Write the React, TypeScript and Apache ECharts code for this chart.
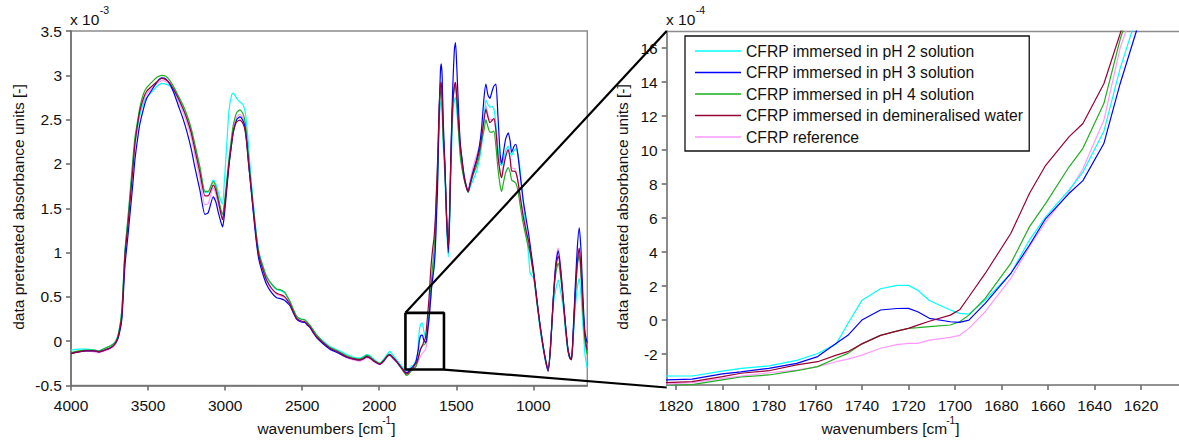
import React, { useEffect, useRef } from "react";
import * as echarts from "echarts";

const FONT = "'Liberation Sans', Arial, Helvetica, sans-serif";

const seriesNames = [
  "CFRP immersed in pH 2 solution",
  "CFRP immersed in pH 3 solution",
  "CFRP immersed in pH 4 solution",
  "CFRP immersed in demineralised water",
  "CFRP reference",
];
const seriesColors = ["#00ffff", "#0000ff", "#1faf1f", "#990033", "#ff99ff"];
const seriesZ = [3, 4, 3, 5, 2];

// wavenumbers [cm-1]
const wavenumbers = [
  4000, 3950, 3900, 3850, 3820, 3780, 3740, 3710, 3690, 3670,
  3650, 3630, 3600, 3585, 3565, 3552, 3530, 3509, 3466, 3440,
  3412, 3385, 3358, 3330, 3304, 3275, 3249, 3220, 3196, 3163,
  3131, 3110, 3077, 3060, 3044, 3025, 3016, 3005, 2990, 2975,
  2958, 2947, 2925, 2904, 2885, 2871, 2860, 2850, 2835, 2817,
  2800, 2785, 2774, 2750, 2731, 2700, 2666, 2640, 2612, 2595,
  2579, 2560, 2536, 2510, 2482, 2465, 2450, 2430, 2406, 2370,
  2320, 2270, 2211, 2170, 2125, 2100, 2082, 2060, 2030, 1996,
  1970, 1945, 1931, 1910, 1887, 1860, 1840, 1830,
  1824, 1813, 1800, 1792, 1780, 1768, 1759, 1751, 1746, 1740,
  1732, 1725, 1720, 1716, 1711, 1702, 1698, 1694, 1687, 1676,
  1668, 1661, 1651, 1645, 1636, 1629, 1622,
  1611, 1603, 1598, 1592, 1585, 1574, 1563, 1552, 1545, 1537,
  1528, 1520, 1512, 1505, 1497, 1485, 1475, 1466, 1450, 1435,
  1423, 1410, 1390, 1368, 1350, 1336, 1320, 1308, 1295, 1282,
  1268, 1256, 1243, 1230, 1215, 1206, 1195, 1180, 1163, 1150,
  1141, 1125, 1113, 1100, 1087, 1065, 1044, 1030, 1022, 1012,
  1000, 990, 975, 958, 940, 920, 904, 890, 871, 855,
  839, 825, 806, 790, 775, 760, 752, 742, 730, 715,
  702, 690, 677, 665, 651,
];

// absorbance, units of 1e-3
const pH2 = [
  -0.10, -0.09, -0.09, -0.10, -0.11, -0.08, -0.05, 0.00, 0.10, 0.35,
  1.00, 1.38, 1.97, 2.24, 2.45, 2.56, 2.68, 2.75, 2.83, 2.88,
  2.91, 2.90, 2.88, 2.82, 2.74, 2.63, 2.52, 2.37, 2.20, 1.95,
  1.68, 1.68, 1.82, 1.77, 1.68, 1.57, 1.55, 1.80, 2.20, 2.60,
  2.78, 2.80, 2.74, 2.70, 2.67, 2.60, 2.45, 2.25, 1.90, 1.55,
  1.25, 1.05, 0.96, 0.82, 0.73, 0.64, 0.58, 0.57, 0.54, 0.49,
  0.44, 0.36, 0.28, 0.25, 0.24, 0.21, 0.18, 0.13, 0.07, 0.01,
  -0.06, -0.10, -0.15, -0.18, -0.19, -0.17, -0.15, -0.165, -0.21, -0.245,
  -0.20, -0.14, -0.115, -0.16, -0.21, -0.27, -0.31, -0.325,
  -0.329, -0.329, -0.300, -0.284, -0.270, -0.237, -0.197, -0.140, -0.020, 0.116,
  0.184, 0.204, 0.204, 0.175, 0.115, 0.059, 0.039, 0.035, 0.117, 0.274,
  0.470, 0.607, 0.764, 0.870, 1.110, 1.480, 1.780,
  2.45, 2.68, 2.71, 2.55, 2.20, 1.85, 1.30, 0.95, 1.20, 1.75,
  2.30, 2.60, 2.72, 2.75, 2.60, 2.35, 2.15, 2.00, 1.85, 1.74,
  1.68, 1.74, 1.82, 1.92, 2.05, 2.20, 2.50, 2.72, 2.67, 2.64,
  2.65, 2.62, 2.45, 2.20, 2.00, 1.98, 2.05, 2.15, 2.20, 2.12,
  2.10, 2.15, 2.18, 2.10, 1.95, 1.55, 1.20, 0.95, 0.78, 0.74,
  0.72, 0.62, 0.40, 0.15, -0.05, -0.24, -0.33, -0.12, 0.40, 0.58,
  0.69, 0.58, 0.38, 0.08, -0.13, -0.20, -0.20, 0.00, 0.33, 0.60,
  0.71, 0.50, 0.15, -0.15, -0.30,
];

const pH3 = [
  -0.14, -0.12, -0.11, -0.11, -0.12, -0.10, -0.07, -0.02, 0.06, 0.25,
  0.85, 1.20, 1.75, 2.05, 2.32, 2.46, 2.62, 2.74, 2.86, 2.93,
  2.97, 2.96, 2.90, 2.79, 2.66, 2.52, 2.37, 2.17, 1.96, 1.70,
  1.43, 1.45, 1.63, 1.57, 1.45, 1.33, 1.29, 1.42, 1.70, 1.98,
  2.22, 2.36, 2.50, 2.53, 2.49, 2.41, 2.25, 2.05, 1.78, 1.45,
  1.16, 0.96, 0.87, 0.73, 0.64, 0.55, 0.49, 0.48, 0.46, 0.43,
  0.40, 0.33, 0.25, 0.22, 0.21, 0.18, 0.155, 0.10, 0.04, -0.02,
  -0.09, -0.13, -0.18, -0.20, -0.21, -0.195, -0.175, -0.19, -0.23, -0.26,
  -0.22, -0.165, -0.155, -0.19, -0.23, -0.29, -0.33, -0.35,
  -0.352, -0.347, -0.317, -0.305, -0.284, -0.255, -0.215, -0.137, -0.090, 0.000,
  0.059, 0.068, 0.069, 0.049, 0.010, -0.010, -0.014, 0.000, 0.098, 0.274,
  0.440, 0.597, 0.744, 0.820, 1.038, 1.390, 1.700,
  2.60, 3.05, 3.13, 3.00, 2.50, 2.00, 1.40, 1.00, 1.30, 1.95,
  2.60, 3.00, 3.30, 3.37, 3.10, 2.60, 2.25, 2.10, 1.88, 1.75,
  1.69, 1.78, 1.92, 2.05, 2.20, 2.40, 2.75, 2.90, 2.78, 2.74,
  2.82, 2.88, 2.90, 2.55, 2.10, 2.00, 2.12, 2.28, 2.35, 2.25,
  2.13, 2.20, 2.22, 2.10, 1.90, 1.58, 1.35, 1.20, 1.10, 0.97,
  0.82, 0.67, 0.44, 0.20, -0.02, -0.23, -0.34, -0.10, 0.47, 0.86,
  1.02, 0.85, 0.47, 0.15, -0.10, -0.20, -0.20, 0.10, 0.55, 1.05,
  1.28, 1.00, 0.45, 0.10, -0.02,
];

const pH4 = [
  -0.13, -0.11, -0.10, -0.10, -0.11, -0.08, -0.05, 0.00, 0.10, 0.35,
  1.02, 1.40, 2.02, 2.30, 2.52, 2.65, 2.79, 2.86, 2.94, 2.98,
  3.00, 2.99, 2.94, 2.86, 2.77, 2.67, 2.56, 2.40, 2.22, 1.96,
  1.69, 1.69, 1.80, 1.74, 1.62, 1.47, 1.43, 1.56, 1.80, 2.06,
  2.30, 2.44, 2.58, 2.61, 2.57, 2.48, 2.32, 2.12, 1.84, 1.52,
  1.23, 1.04, 0.95, 0.82, 0.73, 0.65, 0.59, 0.58, 0.55, 0.50,
  0.45, 0.37, 0.28, 0.25, 0.24, 0.21, 0.18, 0.13, 0.07, 0.00,
  -0.07, -0.11, -0.165, -0.19, -0.20, -0.18, -0.16, -0.175, -0.22, -0.25,
  -0.21, -0.155, -0.145, -0.18, -0.23, -0.30, -0.35, -0.375,
  -0.386, -0.380, -0.352, -0.335, -0.323, -0.298, -0.274, -0.225, -0.196, -0.140,
  -0.090, -0.065, -0.049, -0.045, -0.039, -0.029, -0.010, 0.029, 0.127, 0.333,
  0.548, 0.686, 0.900, 1.010, 1.273, 1.650, 1.950,
  2.55, 2.80, 2.84, 2.70, 2.30, 1.95, 1.40, 1.05, 1.30, 1.85,
  2.45, 2.75, 2.86, 2.88, 2.70, 2.35, 2.10, 1.98, 1.83, 1.73,
  1.68, 1.76, 1.88, 1.98, 2.10, 2.25, 2.38, 2.50, 2.42, 2.36,
  2.36, 2.37, 2.20, 1.95, 1.75, 1.69, 1.78, 1.90, 1.96, 1.90,
  1.82, 1.80, 1.78, 1.70, 1.55, 1.32, 1.15, 1.05, 1.00, 0.89,
  0.76, 0.63, 0.41, 0.18, -0.03, -0.21, -0.30, -0.10, 0.45, 0.76,
  0.88, 0.75, 0.44, 0.13, -0.10, -0.19, -0.18, 0.05, 0.45, 0.85,
  0.97, 0.72, 0.30, 0.00, -0.15,
];

const water = [
  -0.14, -0.12, -0.11, -0.11, -0.12, -0.10, -0.07, -0.02, 0.08, 0.30,
  0.97, 1.32, 1.92, 2.23, 2.48, 2.61, 2.74, 2.82, 2.89, 2.93,
  2.965, 2.95, 2.91, 2.83, 2.74, 2.63, 2.515, 2.35, 2.16, 1.90,
  1.64, 1.64, 1.76, 1.70, 1.58, 1.42, 1.37, 1.50, 1.74, 2.00,
  2.23, 2.36, 2.476, 2.495, 2.46, 2.38, 2.23, 2.04, 1.78, 1.48,
  1.20, 1.00, 0.915, 0.78, 0.69, 0.60, 0.54, 0.525, 0.50, 0.46,
  0.42, 0.34, 0.257, 0.23, 0.219, 0.19, 0.163, 0.11, 0.05, -0.01,
  -0.08, -0.12, -0.176, -0.20, -0.213, -0.195, -0.176, -0.19, -0.23, -0.258,
  -0.22, -0.165, -0.157, -0.19, -0.23, -0.29, -0.34, -0.36,
  -0.368, -0.362, -0.333, -0.313, -0.298, -0.264, -0.245, -0.206, -0.186, -0.140,
  -0.090, -0.065, -0.049, -0.030, -0.007, 0.029, 0.060, 0.137, 0.274, 0.509,
  0.744, 0.910, 1.077, 1.156, 1.390, 1.684, 2.000,
  2.65, 2.88, 2.92, 2.75, 2.35, 1.97, 1.40, 1.07, 1.35, 1.95,
  2.50, 2.75, 2.88, 2.92, 2.75, 2.45, 2.20, 2.07, 1.85, 1.74,
  1.69, 1.78, 1.90, 2.03, 2.15, 2.30, 2.50, 2.62, 2.53, 2.465,
  2.49, 2.515, 2.38, 2.10, 1.90, 1.845, 1.95, 2.08, 2.16, 2.05,
  1.92, 1.92, 1.90, 1.80, 1.65, 1.40, 1.22, 1.12, 1.03, 0.92,
  0.78, 0.65, 0.43, 0.20, -0.02, -0.22, -0.326, -0.10, 0.464, 0.82,
  0.96, 0.82, 0.464, 0.15, -0.10, -0.20, -0.21, 0.05, 0.464, 0.88,
  1.05, 0.78, 0.35, 0.05, -0.10,
];

const reference = [
  -0.14, -0.12, -0.11, -0.12, -0.13, -0.11, -0.08, -0.03, 0.06, 0.28,
  0.95, 1.30, 1.90, 2.20, 2.45, 2.58, 2.71, 2.79, 2.87, 2.91,
  2.94, 2.93, 2.89, 2.80, 2.71, 2.59, 2.47, 2.30, 2.10, 1.83,
  1.54, 1.55, 1.73, 1.66, 1.54, 1.42, 1.40, 1.52, 1.77, 2.03,
  2.27, 2.41, 2.53, 2.56, 2.52, 2.43, 2.27, 2.07, 1.80, 1.48,
  1.19, 0.99, 0.90, 0.77, 0.68, 0.59, 0.53, 0.51, 0.49, 0.45,
  0.41, 0.33, 0.25, 0.22, 0.21, 0.18, 0.155, 0.10, 0.04, -0.02,
  -0.09, -0.13, -0.19, -0.21, -0.225, -0.205, -0.185, -0.20, -0.24, -0.265,
  -0.23, -0.17, -0.16, -0.20, -0.24, -0.30, -0.345, -0.365,
  -0.376, -0.368, -0.343, -0.330, -0.310, -0.294, -0.274, -0.245, -0.230, -0.206,
  -0.166, -0.145, -0.137, -0.137, -0.118, -0.102, -0.090, -0.049, 0.049, 0.245,
  0.431, 0.578, 0.754, 0.890, 1.175, 1.600, 1.880,
  2.65, 2.90, 2.93, 2.78, 2.35, 1.97, 1.40, 1.07, 1.35, 1.95,
  2.50, 2.78, 2.90, 2.92, 2.78, 2.48, 2.25, 2.10, 1.88, 1.76,
  1.71, 1.82, 1.97, 2.10, 2.20, 2.35, 2.52, 2.66, 2.56, 2.50,
  2.50, 2.50, 2.35, 2.10, 1.90, 1.86, 1.97, 2.10, 2.17, 2.05,
  1.95, 1.95, 1.92, 1.82, 1.67, 1.42, 1.24, 1.13, 1.05, 0.93,
  0.79, 0.66, 0.44, 0.21, -0.01, -0.21, -0.31, -0.08, 0.48, 0.88,
  1.05, 0.88, 0.50, 0.16, -0.09, -0.19, -0.20, 0.06, 0.47, 0.90,
  1.05, 0.78, 0.35, 0.05, -0.10,
];

const seriesValues = [pH2, pH3, pH4, water, reference];

// axis ranges
const fullRangeX = [650, 4000];
const fullRangeY = [-0.5, 3.5];
const zoomRangeX = [1603.7, 1823.9];
const zoomRangeY = [-0.382, 1.7]; // in 1e-3 units (labels shown in 1e-4)

// zoom box marked in the full spectrum
const zoomBoxX = [1830, 1580];
const zoomBoxY = [-0.32, 0.32];

const yAxisTitle = "data pretreated absorbance units [-]";

const measure = (() => {
  let ctx: CanvasRenderingContext2D | null = null;
  return (text: string, size: number) => {
    if (!ctx) ctx = document.createElement("canvas").getContext("2d");
    ctx!.font = `${size}px ${FONT}`;
    return ctx!.measureText(text).width;
  };
})();

export default function App() {
  const ref = useRef<HTMLDivElement>(null);

  useEffect(() => {
    const chart = echarts.init(ref.current!, null, { renderer: "svg" });

    const axisLineStyle = { color: "#6e6e6e", width: 1.6 };
    const labelStyle = { color: "#111", fontSize: 15.5, fontFamily: FONT };
    const plain = (v: number) => String(v);

    const makeSeries = (i: number, grid: number) => ({
      type: "line",
      name: seriesNames[i],
      xAxisIndex: grid,
      yAxisIndex: grid,
      data: wavenumbers.map((w, k) => [w, seriesValues[i][k]]),
      symbol: "none",
      showSymbol: false,
      smooth: grid === 0 ? 0.2 : false,
      clip: true,
      z: seriesZ[i],
      lineStyle: { color: seriesColors[i], width: 1.2 },
      itemStyle: { color: seriesColors[i] },
      emphasis: { disabled: true },
    });

    const series: any[] = [];
    for (let i = 0; i < 5; i++) series.push(makeSeries(i, 0));
    for (let i = 0; i < 5; i++) series.push(makeSeries(i, 1));
    series.push({
      type: "line",
      name: "zoombox",
      xAxisIndex: 0,
      yAxisIndex: 0,
      data: [
        [zoomBoxX[0], zoomBoxY[1]],
        [zoomBoxX[1], zoomBoxY[1]],
        [zoomBoxX[1], zoomBoxY[0]],
        [zoomBoxX[0], zoomBoxY[0]],
        [zoomBoxX[0], zoomBoxY[1]],
      ],
      symbol: "none",
      clip: false,
      z: 10,
      lineStyle: { color: "#000", width: 2.6 },
      itemStyle: { color: "#000" },
      emphasis: { disabled: true },
    });

    const option: any = {
      animation: false,
      textStyle: { fontFamily: FONT },
      grid: [
        {
          left: 71,
          top: 31,
          width: 516.3,
          height: 354.5,
          show: true,
          borderColor: "#8c8c8c",
          borderWidth: 1.4,
          backgroundColor: "transparent",
        },
        { left: 666.7, top: 31, width: 512.3, height: 354, show: false },
      ],
      xAxis: [
        {
          type: "value",
          gridIndex: 0,
          inverse: true,
          min: fullRangeX[0],
          max: fullRangeX[1],
          minInterval: 500,
          maxInterval: 500,
          axisLine: { show: true, onZero: false, lineStyle: axisLineStyle },
          axisTick: { show: true, inside: false, length: 5, lineStyle: axisLineStyle },
          axisLabel: { ...labelStyle, margin: 12, showMinLabel: false, showMaxLabel: true, formatter: plain },
          splitLine: { show: false },
        },
        {
          type: "value",
          gridIndex: 1,
          inverse: true,
          min: zoomRangeX[0],
          max: zoomRangeX[1],
          minInterval: 20,
          maxInterval: 20,
          axisLine: { show: true, onZero: false, lineStyle: axisLineStyle },
          axisTick: { show: true, inside: false, length: 5, lineStyle: axisLineStyle },
          axisLabel: { ...labelStyle, margin: 12, showMinLabel: false, showMaxLabel: false, formatter: plain },
          splitLine: { show: false },
        },
        {
          type: "value",
          gridIndex: 1,
          position: "top",
          inverse: true,
          min: zoomRangeX[0],
          max: zoomRangeX[1],
          axisLine: { show: true, onZero: false, lineStyle: { color: "#8c8c8c", width: 1.4 } },
          axisTick: { show: false },
          axisLabel: { show: false },
          splitLine: { show: false },
        },
      ],
      yAxis: [
        {
          type: "value",
          gridIndex: 0,
          min: fullRangeY[0],
          max: fullRangeY[1],
          interval: 0.5,
          axisLine: { show: true, onZero: false, lineStyle: axisLineStyle },
          axisTick: { show: true, inside: false, length: 5, lineStyle: axisLineStyle },
          axisLabel: { ...labelStyle, margin: 9, formatter: plain },
          splitLine: { show: false },
        },
        {
          type: "value",
          gridIndex: 1,
          min: zoomRangeY[0],
          max: zoomRangeY[1],
          minInterval: 0.2,
          maxInterval: 0.2,
          axisLine: { show: true, onZero: false, lineStyle: axisLineStyle },
          axisTick: { show: true, inside: false, length: 5, lineStyle: axisLineStyle },
          axisLabel: {
            ...labelStyle,
            margin: 9,
            showMinLabel: false,
            showMaxLabel: false,
            formatter: (v: number) => String(Math.round(v * 10)),
          },
          splitLine: { show: false },
        },
      ],
      legend: {
        data: seriesNames.map((n) => ({ name: n, icon: "rect" })),
        orient: "vertical",
        left: 685,
        top: 36,
        itemWidth: 46,
        itemHeight: 1.6,
        itemGap: 5.5,
        padding: [7, 6, 6, 10],
        backgroundColor: "#fff",
        borderColor: "#111",
        borderWidth: 1.3,
        selectedMode: false,
        textStyle: { color: "#111", fontSize: 15.7, fontFamily: FONT },
        z: 20,
      },
      series,
    };

    chart.setOption(option);

    // overlay texts and connector lines
    const p = (grid: number, x: number, y: number) =>
      chart.convertToPixel({ gridIndex: grid } as any, [x, y]) as number[];

    const boxTL = p(0, zoomBoxX[0], zoomBoxY[1]);
    const boxBR = p(0, zoomBoxX[1], zoomBoxY[0]);
    const zTL = p(1, zoomRangeX[1], zoomRangeY[1]);
    const zBL = p(1, zoomRangeX[1], zoomRangeY[0]);

    const txt = (text: string, x: number, y: number, size: number, align = "left", extra: any = {}) => ({
      type: "text",
      x,
      y,
      z: 30,
      ...extra,
      style: {
        text,
        fill: "#111",
        fontSize: size,
        fontFamily: FONT,
        align,
        verticalAlign: "middle",
      },
    });

    const supLabel = (base: string, sup: string, tail: string, cx: number, cy: number, size: number) => {
      const wb = measure(base, size);
      const ws = measure(sup, size * 0.66);
      const wt = measure(tail, size);
      const total = wb + ws + wt;
      const x0 = cx - total / 2;
      return [
        txt(base, x0, cy, size),
        txt(sup, x0 + wb - 1, cy - 8, size * 0.66),
        txt(tail, x0 + wb + ws - 1, cy, size),
      ];
    };

    const graphic: any[] = [
      // multiplier labels
      txt("x 10", 70, 19, 15.5),
      txt("-3", 70 + measure("x 10", 15.5) + 0.5, 10, 10.5),
      txt("x 10", 666, 19, 15.5),
      txt("-4", 666 + measure("x 10", 15.5) + 0.5, 10, 10.5),
      // x axis names
      ...supLabel("wavenumbers [cm", "-1", "]", 327, 428, 15.5),
      ...supLabel("wavenumbers [cm", "-1", "]", 891, 428, 15.5),
      // y axis names
      txt(yAxisTitle, 18, 207, 15.5, "center", { rotation: Math.PI / 2 }),
      txt(yAxisTitle, 622, 207, 15.5, "center", { rotation: Math.PI / 2 }),
      // connectors
      {
        type: "line",
        z: 40,
        shape: { x1: boxTL[0], y1: boxTL[1], x2: zTL[0], y2: zTL[1] },
        style: { stroke: "#000", lineWidth: 2.2 },
      },
      {
        type: "line",
        z: 40,
        shape: { x1: boxBR[0], y1: boxBR[1], x2: zBL[0], y2: zBL[1] + 2.5 },
        style: { stroke: "#000", lineWidth: 2.2 },
      },
    ];

    chart.setOption({ graphic });

    return () => chart.dispose();
  }, []);

  return (
    <div
      ref={ref}
      style={{ position: "fixed", left: 0, top: 0, width: 1179, height: 441, background: "#fff" }}
    />
  );
}
